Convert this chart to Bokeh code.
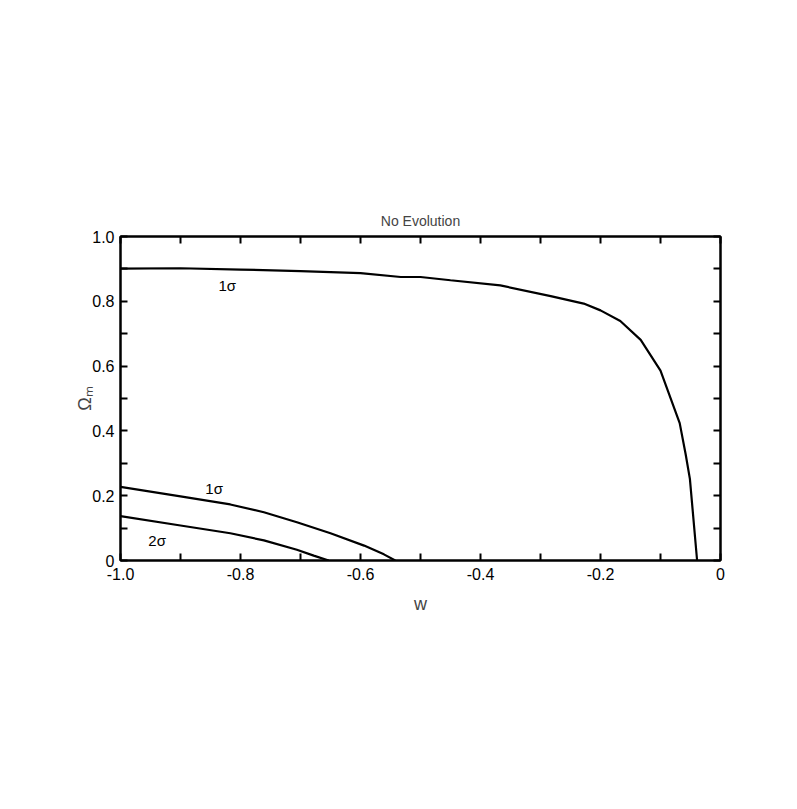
from bokeh.plotting import figure
from bokeh.models import LinearAxis, FixedTicker, Range1d, ColumnDataSource
from bokeh.core.properties import value
from bokeh.embed import file_html
from bokeh.resources import INLINE

FONT = "Liberation Sans"

# upper 1-sigma contour
w_up = [-1.0, -0.9, -0.8, -0.7, -0.6, -0.533, -0.5, -0.45, -0.367, -0.283,
        -0.228, -0.2, -0.167, -0.133, -0.1, -0.068, -0.058, -0.051, -0.039]
om_up = [0.901, 0.902, 0.898, 0.893, 0.887, 0.875, 0.875, 0.865, 0.849, 0.816,
         0.793, 0.772, 0.739, 0.681, 0.586, 0.424, 0.327, 0.252, 0.0]

# lower 1-sigma contour
w_lo1 = [-1.0, -0.9, -0.817, -0.761, -0.706, -0.65, -0.594, -0.561, -0.542]
om_lo1 = [0.227, 0.198, 0.173, 0.149, 0.118, 0.084, 0.046, 0.019, 0.0]

# lower 2-sigma contour
w_lo2 = [-1.0, -0.9, -0.817, -0.761, -0.706, -0.678, -0.653]
om_lo2 = [0.137, 0.108, 0.084, 0.062, 0.033, 0.015, 0.0]

# contour labels
lab_w = [-0.822, -0.844, -0.939]
lab_om = [0.849, 0.221, 0.062]
lab_txt = ["1σ", "1σ", "2σ"]

x_major = [-1.0, -0.8, -0.6, -0.4, -0.2, 0.0]
x_minor = [-0.9, -0.7, -0.5, -0.3, -0.1]
x_labels = {-1.0: "-1.0", -0.8: "-0.8", -0.6: "-0.6", -0.4: "-0.4", -0.2: "-0.2", 0.0: "0"}
y_major = [0.0, 0.2, 0.4, 0.6, 0.8, 1.0]
y_minor = [0.1, 0.3, 0.5, 0.7, 0.9]
y_labels = {0.0: "0", 0.2: "0.2", 0.4: "0.4", 0.6: "0.6", 0.8: "0.8", 1.0: "1.0"}

W, H = 780, 790
p = figure(width=W, height=H, output_backend="svg", toolbar_location=None,
           x_range=Range1d(-1.0, 0.0), y_range=Range1d(0.0, 1.0),
           x_axis_location=None, y_axis_location=None,
           min_border_left=120, min_border_right=W - 720,
           min_border_top=236, min_border_bottom=H - 560,
           title="No Evolution")
p.title.align = "center"
p.title.text_font = FONT
p.title.text_font_size = "14px"
p.title.text_font_style = "normal"
p.title.standoff = 15
p.grid.visible = False
p.outline_line_color = "black"
p.outline_line_width = 2
p.background_fill_color = "white"
p.border_fill_color = "white"


def style_axis(ax, ticks, minor, labels, show):
    ax.ticker = FixedTicker(ticks=ticks, minor_ticks=minor)
    ax.axis_line_color = "black"
    ax.axis_line_width = 2
    ax.major_tick_in = 7
    ax.major_tick_out = 0
    ax.minor_tick_in = 7
    ax.minor_tick_out = 0
    ax.major_tick_line_width = 2
    ax.minor_tick_line_width = 2
    ax.major_tick_line_color = "black"
    ax.minor_tick_line_color = "black"
    ax.major_label_text_font = FONT
    ax.major_label_text_font_size = "16px"
    ax.major_label_text_color = "black"
    ax.axis_label_text_font = FONT
    ax.axis_label_text_font_style = "normal"
    ax.axis_label_text_font_size = "18px"
    if show:
        ax.major_label_overrides = labels
    else:
        ax.major_label_text_alpha = 0
        ax.major_label_text_font_size = "1px"
        ax.major_label_standoff = 0


xb = LinearAxis(axis_label="w")
style_axis(xb, x_major, x_minor, x_labels, True)
xb.major_label_standoff = 7
xb.axis_label_standoff = 11
p.add_layout(xb, "below")

yl = LinearAxis(axis_label="Ωₘ")
style_axis(yl, y_major, y_minor, y_labels, True)
yl.major_label_standoff = 6
yl.axis_label_standoff = -6
p.add_layout(yl, "left")

xt = LinearAxis()
style_axis(xt, x_major, x_minor, x_labels, False)
p.add_layout(xt, "above")

yr = LinearAxis()
style_axis(yr, y_major, y_minor, y_labels, False)
p.add_layout(yr, "right")

p.line(w_up, om_up, line_color="black", line_width=2.2)
p.line(w_lo1, om_lo1, line_color="black", line_width=2.2)
p.line(w_lo2, om_lo2, line_color="black", line_width=2.2)

src = ColumnDataSource(dict(x=lab_w, y=lab_om, t=lab_txt))
p.text(x="x", y="y", text="t", source=src, text_font=value(FONT),
       text_font_size="15px", text_align="center", text_baseline="middle",
       text_color="black")

open("out.html", "w").write(file_html(p, INLINE))
